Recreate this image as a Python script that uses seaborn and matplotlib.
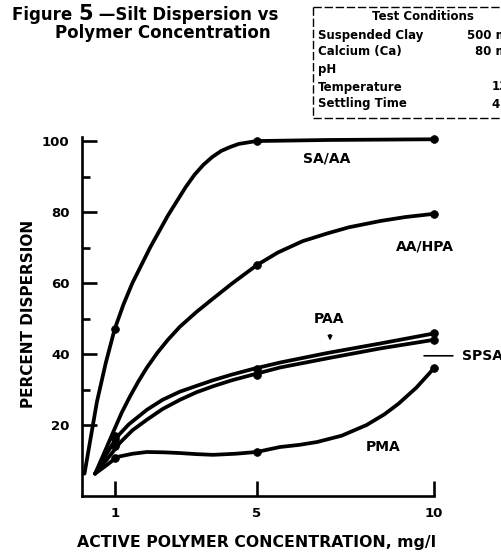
import numpy as np
import pandas as pd
import seaborn as sns
import matplotlib.pyplot as plt
from matplotlib.lines import Line2D

# curves (mg/l vs % dispersion)
sa_aa_x = [0.15, 0.5, 0.75, 1.0, 1.25, 1.5, 1.75, 2.0, 2.25, 2.5, 2.75, 3.0, 3.25, 3.5,
           3.75, 4.0, 4.25, 4.5, 5.0, 7.0, 10.0]
sa_aa_y = [6.3, 26.5, 37.5, 47, 54, 60, 65, 70, 74.5, 79, 83, 87, 90.5, 93.3,
           95.5, 97.2, 98.3, 99.2, 100, 100.3, 100.5]

aa_hpa_x = [0.45, 0.7, 0.95, 1.2, 1.43, 1.67, 1.91, 2.2, 2.5, 2.84, 3.3, 3.77, 4.3,
            5.0, 5.6, 6.3, 7.0, 7.6, 8.5, 9.2, 10.0]
aa_hpa_y = [6.3, 12, 17.8, 23.5, 28, 32.3, 36.2, 40.3, 44, 47.7, 51.8, 55.6, 59.8,
            65, 68.6, 71.8, 74, 75.7, 77.5, 78.6, 79.5]

paa_x = [0.45, 0.75, 1.07, 1.4, 1.91, 2.35, 2.84, 3.3, 3.77, 4.3, 4.9, 5.66, 7.0, 8.5, 10.0]
paa_y = [6.3, 11.5, 16.7, 20.2, 24.3, 27.1, 29.4, 31, 32.6, 34.2, 35.8, 37.6, 40.3, 43, 45.8]

spsa_x = [0.45, 0.8, 1.15, 1.5, 1.91, 2.35, 2.84, 3.3, 3.77, 4.3, 4.9, 5.66, 7.0, 8.5, 10.0]
spsa_y = [6.3, 10.5, 15, 18.5, 21.5, 24.5, 27.1, 29.2, 30.9, 32.6, 34.2, 36.2, 38.8, 41.6, 44]

pma_x = [0.45, 0.75, 1.07, 1.5, 1.91, 2.4, 2.84, 3.3, 3.77, 4.4, 5.0, 5.66, 6.2, 6.7,
         7.4, 8.1, 8.6, 9.0, 9.5, 10.0]
pma_y = [6.3, 8.5, 11, 11.9, 12.4, 12.3, 12.1, 11.8, 11.6, 11.9, 12.4, 13.8, 14.4, 15.2,
         17, 20, 23, 26, 30.5, 36]

# measured points (dots)
pt_x = [1, 5, 10]
sa_aa_pts = [47, 100, 100.5]
aa_hpa_pts = [17, 65, 79.5]
paa_pts = [16, 35.8, 45.8]
spsa_pts = [14, 34.2, 44]
pma_pts = [10.8, 12.4, 36]

series = ['SA/AA', 'AA/HPA', 'PAA', 'SPSA', 'PMA']
curves = [(sa_aa_x, sa_aa_y), (aa_hpa_x, aa_hpa_y), (paa_x, paa_y),
          (spsa_x, spsa_y), (pma_x, pma_y)]
points = [sa_aa_pts, aa_hpa_pts, paa_pts, spsa_pts, pma_pts]

df = pd.concat([pd.DataFrame({'conc': cx, 'disp': cy, 'polymer': s})
                for s, (cx, cy) in zip(series, curves)])
df_pts = pd.concat([pd.DataFrame({'conc': pt_x, 'disp': p, 'polymer': s})
                    for s, p in zip(series, points)])

sns.set_style('ticks')
plt.rcParams['font.family'] = ['DejaVu Sans']
plt.rcParams['text.color'] = 'black'
plt.rcParams['xtick.color'] = 'black'
plt.rcParams['ytick.color'] = 'black'
plt.rcParams['axes.edgecolor'] = 'black'

fig = plt.figure(figsize=(5.02, 5.52), dpi=100)
ax = fig.add_axes([82 / 502, 56 / 552, 352 / 502, 358.5 / 552])

sns.lineplot(data=df, x='conc', y='disp', units='polymer', estimator=None,
             sort=False, color='black', lw=2.7, ax=ax, clip_on=False)
sns.scatterplot(data=df_pts, x='conc', y='disp', color='black', s=32,
                edgecolor='black', ax=ax, clip_on=False, zorder=5)

ax.set_xlim(0.08, 10)
ax.set_ylim(0, 101)
ax.set_xticks([1, 5, 10])
ax.set_yticks([20, 40, 60, 80, 100])
ax.set_yticks([30, 50, 70, 90], minor=True)
sns.despine(ax=ax)
for sp in ['left', 'bottom']:
    ax.spines[sp].set_linewidth(1.9)
ax.tick_params(axis='both', which='major', direction='in', length=11, width=1.9,
               labelsize=9.5)
ax.tick_params(axis='y', which='minor', direction='in', length=6, width=1.9)
ax.tick_params(axis='y', pad=9)
ax.tick_params(axis='x', pad=8)
for lab in ax.get_xticklabels() + ax.get_yticklabels():
    lab.set_fontweight('bold')
ax.set_xlabel('')
ax.set_ylabel('')

# curve labels
lab_kw = dict(fontsize=10, fontweight='bold', ha='center', va='center')
ax.text(6.98, 95.2, 'SA/AA', **lab_kw)
ax.text(9.74, 70.3, 'AA/HPA', **lab_kw)
ax.text(7.04, 50, 'PAA', **lab_kw)
ax.text(8.56, 13.8, 'PMA', **lab_kw)
ax.annotate('', xy=(7.07, 43.0), xytext=(7.07, 46.2),
            arrowprops=dict(arrowstyle='-|>', lw=1.2, color='black',
                            mutation_scale=6))
ax.annotate('SPSA', xy=(9.72, 39.5), xytext=(10.78, 39.5), fontsize=10,
            fontweight='bold', va='center', ha='left', annotation_clip=False,
            arrowprops=dict(arrowstyle='-', lw=1.2, color='black',
                            shrinkA=4, shrinkB=0))

fig.text(0.056, 1 - 314 / 552, 'PERCENT DISPERSION', rotation=90, fontsize=11,
         fontweight='bold', ha='center', va='center')
fig.text(257 / 502, 1 - 543 / 552, 'ACTIVE POLYMER CONCENTRATION, mg/l', fontsize=11.3,
         fontweight='bold', ha='center', va='center')

# title, with the larger figure number
t1 = fig.text(12 / 502, 1 - 20 / 552, 'Figure ', fontsize=12, fontweight='bold',
              ha='left', va='baseline')
t2 = fig.text(0, 0, '5', fontsize=15, fontweight='bold', ha='left', va='baseline')
t3 = fig.text(0, 0, ' \u2014Silt Dispersion vs', fontsize=12, fontweight='bold',
              ha='left', va='baseline')
fig.canvas.draw()
r = fig.canvas.get_renderer()
inv = fig.transFigure.inverted()
bb = inv.transform(t1.get_window_extent(r))
t2.set_position((bb[1][0], 1 - 20 / 552))
fig.canvas.draw()
bb = inv.transform(t2.get_window_extent(r))
t3.set_position((bb[1][0], 1 - 20 / 552))
fig.text(163 / 502, 1 - 33 / 552, 'Polymer Concentration', fontsize=12,
         fontweight='bold', ha='center', va='center')

# test conditions box
box_rows = ['Suspended Clay', 'Calcium (Ca)', 'pH', 'Temperature', 'Settling Time']
box_vals = ['500 mg/l', '80 mg/l', '8.0', '13\u00b0C', '4 hr']
val_x = [467, 475, 505, 492, 492]
row_y = [35, 52, 70, 87, 104]
fig.text(423 / 502, 1 - 17 / 552, 'Test Conditions', fontsize=8.5, fontweight='bold',
         ha='center', va='center')
for rw, v, vx, ry in zip(box_rows, box_vals, val_x, row_y):
    fig.text(318 / 502, 1 - ry / 552, rw, fontsize=8.5, fontweight='bold', va='center')
    fig.text(vx / 502, 1 - ry / 552, v, fontsize=8.5, fontweight='bold', va='center')
box_kw = dict(color='black', lw=1.0, ls=(0, (6, 2)), transform=fig.transFigure)
fig.add_artist(Line2D([313 / 502, 1], [1 - 7 / 552, 1 - 7 / 552], **box_kw))
fig.add_artist(Line2D([313 / 502, 313 / 502], [1 - 7 / 552, 1 - 118 / 552], **box_kw))
fig.add_artist(Line2D([313 / 502, 1], [1 - 118 / 552, 1 - 118 / 552], **box_kw))

fig.savefig('out.png', dpi=100)
